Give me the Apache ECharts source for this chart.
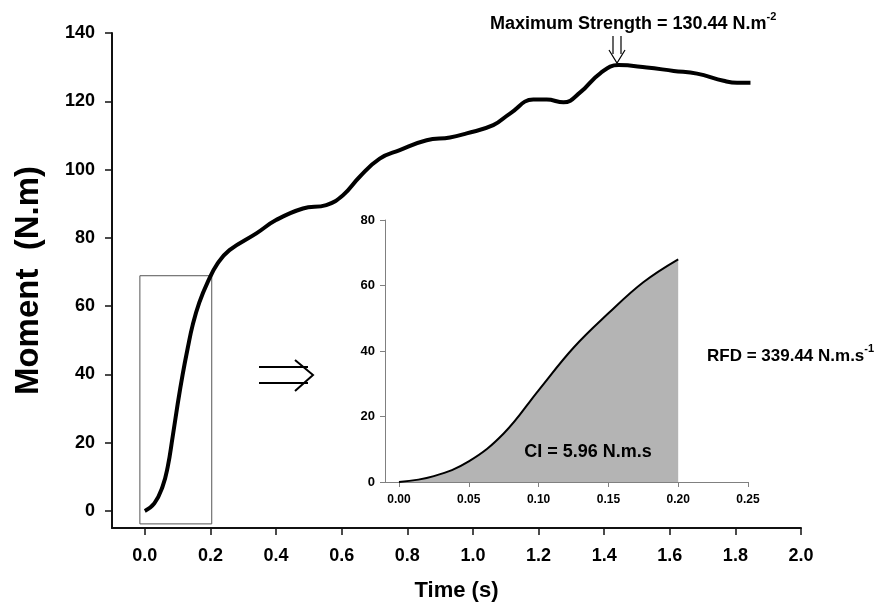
<!DOCTYPE html>
<html>
<head>
<meta charset="utf-8">
<script src="https://cdn.jsdelivr.net/npm/echarts@6/dist/echarts.min.js"></script>
<style>
  html, body { margin: 0; padding: 0; background: #fff; }
  #chart { width: 895px; height: 610px; }
</style>
</head>
<body>
<div id="chart"></div>
<script>
// main curve: time (s) vs moment (N.m)
var mainTime = [0, 0.029, 0.054, 0.07, 0.085, 0.10, 0.115, 0.131, 0.146, 0.166, 0.192, 0.222,
  0.258, 0.34, 0.40, 0.482, 0.553, 0.604, 0.655, 0.716, 0.777, 0.859, 0.93, 0.981, 1.062, 1.113,
  1.184, 1.225, 1.276, 1.327, 1.388, 1.444, 1.53, 1.612, 1.683, 1.764, 1.805, 1.846]
var mainMoment = [0, 2.2, 7.1, 13, 21.8, 31.2, 39.8, 47.8, 54.5, 61, 67.1, 72.5,
  76.4, 81.3, 85.2, 88.6, 89.6, 92.5, 97.9, 103.2, 105.7, 108.6, 109.4, 110.6, 113, 116.4,
  120.5, 120.5, 119.7, 122.6, 128.2, 130.6, 129.9, 128.9, 128.1, 126, 125.4, 125.4]

// zoomed first 0.2 s (inset)
var insetTime = [0, 0.025, 0.05, 0.075, 0.10, 0.125, 0.15, 0.175, 0.20]
var insetMoment = [0, 1.8, 6.3, 14.8, 28, 41, 51.5, 61, 68]

// tick labels
var mainXTicks = [0, 0.2, 0.4, 0.6, 0.8, 1.0, 1.2, 1.4, 1.6, 1.8, 2.0]
var mainYTicks = [0, 20, 40, 60, 80, 100, 120, 140]
var insetXTicks = [0, 0.05, 0.10, 0.15, 0.20, 0.25]
var insetYTicks = [0, 20, 40, 60, 80]

// zoom box around the first 0.2 s
var boxFrom = [-0.015, -3.8]
var boxTo = [0.204, 68.9]

var font = "'Liberation Sans', Arial, sans-serif"

function pairs(xs, ys) {
  return xs.map(function (x, i) { return [x, ys[i]] })
}

var chart = echarts.init(document.getElementById('chart'))

var mainAxisLine = { show: true, onZero: false, lineStyle: { color: '#111', width: 2 } }
var insetAxisLine = { show: true, onZero: false, lineStyle: { color: '#808080', width: 1 } }

var option = {
  backgroundColor: '#fff',
  animation: false,
  textStyle: { fontFamily: font },
  grid: [
    { left: 112, right: 94, top: 33, bottom: 82 },
    { left: 385, right: 147, top: 220, bottom: 128 },
  ],
  xAxis: [
    {
      type: 'value',
      gridIndex: 0,
      min: -0.1,
      max: 2.0,
      name: 'Time (s)',
      nameLocation: 'middle',
      nameGap: 52,
      nameTextStyle: { fontFamily: font, fontWeight: 'bold', fontSize: 22, color: '#000' },
      axisLine: mainAxisLine,
      axisTick: { show: true, length: 7, lineStyle: { color: '#111', width: 1.5 }, customValues: mainXTicks },
      axisLabel: {
        customValues: mainXTicks,
        margin: 19,
        fontFamily: font,
        fontWeight: 'bold',
        fontSize: 18,
        color: '#000',
        formatter: function (v) { return v.toFixed(1) },
      },
      splitLine: { show: false },
    },
    {
      type: 'value',
      gridIndex: 1,
      min: -0.01,
      max: 0.25,
      axisLine: insetAxisLine,
      axisTick: { show: true, length: 5, lineStyle: { color: '#808080' }, customValues: insetXTicks },
      axisLabel: {
        customValues: insetXTicks,
        margin: 12,
        fontFamily: font,
        fontWeight: 'bold',
        fontSize: 12,
        color: '#000',
        formatter: function (v) { return v.toFixed(2) },
      },
      splitLine: { show: false },
    },
  ],
  yAxis: [
    {
      type: 'value',
      gridIndex: 0,
      min: -5,
      max: 140,
      name: 'Moment  (N.m)',
      nameLocation: 'middle',
      nameGap: 67,
      nameTextStyle: { fontFamily: font, fontWeight: 'bold', fontSize: 33, color: '#000' },
      axisLine: mainAxisLine,
      axisTick: { show: true, length: 7, lineStyle: { color: '#111', width: 1.5 }, customValues: mainYTicks },
      axisLabel: {
        customValues: mainYTicks,
        margin: 17,
        fontFamily: font,
        fontWeight: 'bold',
        fontSize: 18,
        color: '#000',
      },
      splitLine: { show: false },
    },
    {
      type: 'value',
      gridIndex: 1,
      min: 0,
      max: 80,
      axisLine: insetAxisLine,
      axisTick: { show: true, length: 5, lineStyle: { color: '#808080' }, customValues: insetYTicks },
      axisLabel: {
        customValues: insetYTicks,
        margin: 10,
        fontFamily: font,
        fontWeight: 'bold',
        fontSize: 13,
        color: '#000',
      },
      splitLine: { show: false },
    },
  ],
  series: [
    {
      name: 'Moment',
      type: 'line',
      xAxisIndex: 0,
      yAxisIndex: 0,
      showSymbol: false,
      smooth: 0.45,
      lineStyle: { color: '#000', width: 4 },
      data: pairs(mainTime, mainMoment),
      markArea: {
        silent: true,
        itemStyle: { color: 'rgba(0,0,0,0)', borderColor: '#555', borderWidth: 1 },
        data: [[{ coord: boxFrom }, { coord: boxTo }]],
      },
      z: 3,
    },
    {
      name: 'Inset',
      type: 'line',
      xAxisIndex: 1,
      yAxisIndex: 1,
      showSymbol: false,
      smooth: 0.4,
      lineStyle: { color: '#000', width: 2 },
      areaStyle: { color: '#b4b4b4', opacity: 1 },
      data: pairs(insetTime, insetMoment),
    },
  ],
  graphic: [
    // annotations
    {
      type: 'text',
      left: 490,
      top: 11,
      style: {
        text: '{a|Maximum Strength = 130.44 N.m}{s|-2}',
        rich: {
          a: { fontFamily: font, fontWeight: 'bold', fontSize: 18, lineHeight: 22, fill: '#000', verticalAlign: 'bottom' },
          s: { fontFamily: font, fontWeight: 'bold', fontSize: 11, lineHeight: 22, fill: '#000', verticalAlign: 'top' },
        },
      },
    },
    {
      type: 'text',
      left: 707,
      top: 343,
      style: {
        text: '{a|RFD = 339.44 N.m.s}{s|-1}',
        rich: {
          a: { fontFamily: font, fontWeight: 'bold', fontSize: 17, lineHeight: 22, fill: '#000', verticalAlign: 'bottom' },
          s: { fontFamily: font, fontWeight: 'bold', fontSize: 11, lineHeight: 22, fill: '#000', verticalAlign: 'top' },
        },
      },
    },
    {
      type: 'text',
      x: 588,
      y: 452,
      style: {
        text: 'CI = 5.96 N.m.s',
        fontFamily: font,
        fontWeight: 'bold',
        fontSize: 18,
        fill: '#000',
        align: 'center',
        verticalAlign: 'middle',
      },
      z: 10,
    },
    // double arrow pointing to the inset
    { type: 'line', shape: { x1: 259, y1: 367, x2: 308, y2: 367 }, style: { stroke: '#000', lineWidth: 2 } },
    { type: 'line', shape: { x1: 259, y1: 383, x2: 308, y2: 383 }, style: { stroke: '#000', lineWidth: 2 } },
    {
      type: 'polyline',
      shape: { points: [[295, 360], [313, 375], [295, 391]] },
      style: { stroke: '#000', lineWidth: 2, fill: null },
    },
    // hollow down arrow at the peak
    { type: 'line', shape: { x1: 613, y1: 36, x2: 613, y2: 54 }, style: { stroke: '#000', lineWidth: 1.2 } },
    { type: 'line', shape: { x1: 621, y1: 36, x2: 621, y2: 54 }, style: { stroke: '#000', lineWidth: 1.2 } },
    {
      type: 'polyline',
      shape: { points: [[609, 50], [617, 63], [625, 50]] },
      style: { stroke: '#000', lineWidth: 1.2, fill: null },
    },
  ],
}

chart.setOption(option)
</script>
</body>
</html>
